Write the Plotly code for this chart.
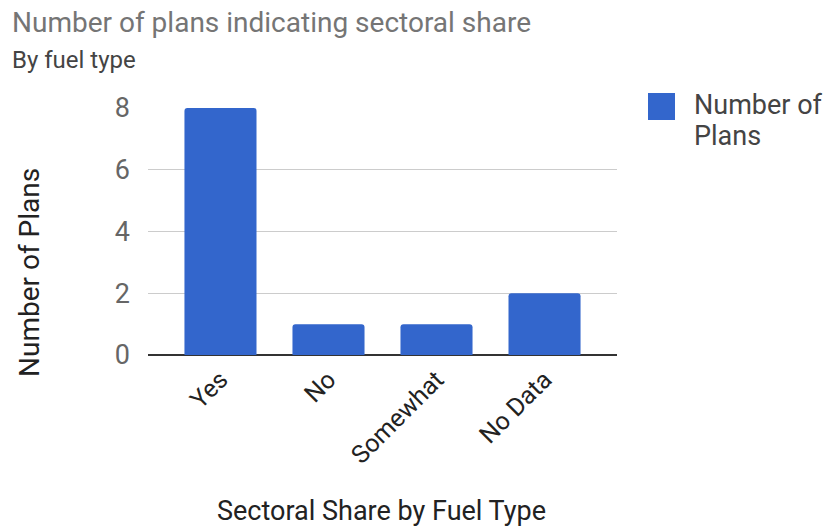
import plotly.graph_objects as go

categories = ["Yes", "No", "Somewhat", "No Data"]
plan_counts = [8, 1, 1, 2]
series_name = "Number of Plans"
legend_lines = ["Number of", "Plans"]
y_ticks = [0, 2, 4, 6, 8]

BAR_COLOR = "#3366cc"
FONT = "Roboto, Arial, sans-serif"

fig = go.Figure(
    go.Bar(
        x=categories,
        y=plan_counts,
        name=series_name,
        marker=dict(color=BAR_COLOR, cornerradius=3, line=dict(width=0)),
        showlegend=False,
    )
)

fig.update_layout(
    width=833,
    height=529,
    margin=dict(l=148, r=216, t=108, b=174),
    paper_bgcolor="white",
    plot_bgcolor="white",
    bargap=0.333,
    font=dict(family=FONT),
)

fig.update_yaxes(
    range=[0, 8],
    tickvals=y_ticks,
    tickfont=dict(size=27, color="#666666"),
    gridcolor="#cccccc",
    gridwidth=1,
    zeroline=True,
    zerolinecolor="#333333",
    zerolinewidth=2,
    showline=False,
    ticklabelstandoff=17,
)

# Extra padding on both sides of the category band
pad = 0.171
fig.update_xaxes(
    range=[-0.5 - pad, len(categories) - 0.5 + pad],
    tickangle=-45,
    tickfont=dict(size=25, color="#222222"),
    showline=False,
    ticks="",
    ticklabelstandoff=4,
)

# Chart title and subtitle
fig.add_annotation(
    text="Number of plans indicating sectoral share",
    xref="paper", yref="paper", x=0, y=0,
    xanchor="left", yanchor="middle",
    font=dict(size=28, color="#757575"),
    showarrow=False,
)
fig.add_annotation(
    text="By fuel type",
    xref="paper", yref="paper", x=0, y=0,
    xanchor="left", yanchor="middle",
    font=dict(size=24, color="#444444"),
    showarrow=False,
)

# Axis titles
fig.add_annotation(
    text="Number of Plans",
    xref="paper", yref="paper", x=0, y=0,
    xanchor="center", yanchor="middle",
    textangle=-90,
    font=dict(size=28, color="#222222"),
    showarrow=False,
)
fig.add_annotation(
    text="Sectoral Share by Fuel Type",
    xref="paper", yref="paper", x=0, y=0,
    xanchor="center", yanchor="middle",
    font=dict(size=27, color="#222222"),
    showarrow=False,
)

# Legend swatch and label (two tightly spaced lines)
fig.add_shape(
    type="rect", xref="paper", yref="paper",
    x0=0, x1=0, y0=0, y1=0,
    fillcolor=BAR_COLOR, line=dict(width=0),
)
for line in legend_lines:
    fig.add_annotation(
        text=line,
        xref="paper", yref="paper", x=0, y=0,
        xanchor="left", yanchor="middle", align="left",
        font=dict(size=27, color="#444444"),
        showarrow=False,
        borderpad=0,
    )


# Position overlay items in pixel coordinates relative to the plot area
W, H = 833, 529
L, R, T, B = 148, 216, 108, 174
pw, ph = W - L - R, H - T - B


def px(xp):
    return (xp - L) / pw


def py(yp):
    return (H - B - yp) / ph


anns = fig.layout.annotations
anns[0].update(x=px(10), y=py(22))
anns[1].update(x=px(10), y=py(60))
anns[2].update(x=px(29), y=py(273))
anns[3].update(x=px(381), y=py(511))
anns[4].update(x=px(693), y=py(105))
anns[5].update(x=px(693), y=py(136))
fig.layout.shapes[0].update(x0=px(648), x1=px(675), y0=py(120), y1=py(93))

fig.write_html("out.html")
